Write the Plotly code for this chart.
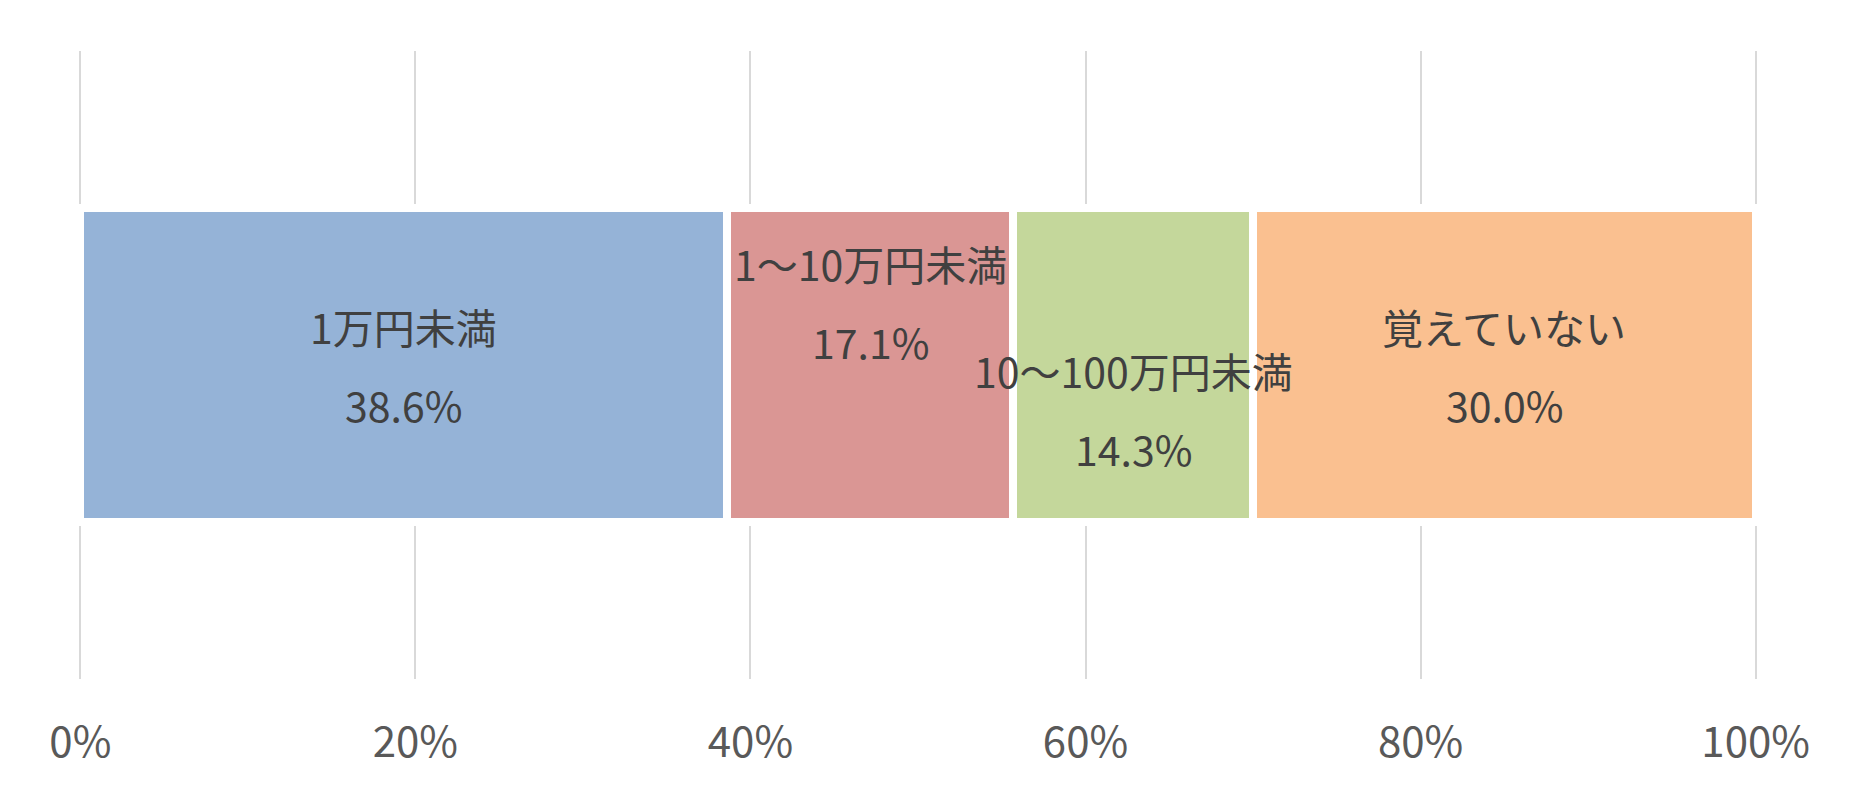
import plotly.graph_objects as go

# NOTE: spending bands and their share (%)
categories = ["1万円未満", "1～10万円未満", "10～100万円未満", "覚えていない"]
shares = [38.6, 17.1, 14.3, 30.0]
tick_values = [0, 20, 40, 60, 80, 100]
tick_labels = ["0%", "20%", "40%", "60%", "80%", "100%"]

colors = ["#95b3d7", "#da9694", "#c4d79b", "#fac090"]
label_offsets = [0, 63, -44, 0]  # vertical nudge of each label pair, px

FONT = "Noto Sans CJK JP"
TEXT_COLOR = "#404040"

fig = go.Figure()
for name, value, color in zip(categories, shares, colors):
    fig.add_trace(
        go.Bar(
            x=[value],
            y=["all"],
            orientation="h",
            name=name,
            width=0.5,
            marker=dict(color=color, line=dict(color="#ffffff", width=8)),
            hoverinfo="name+x",
        )
    )

# labels: category name above, share below, centred on each segment
left = 0
for name, value, shift in zip(categories, shares, label_offsets):
    center = left + value / 2
    left += value
    fig.add_annotation(
        x=center, y="all", text=name, showarrow=False,
        yshift=shift + 39, font=dict(family=FONT, size=41, color=TEXT_COLOR),
    )
    fig.add_annotation(
        x=center, y="all", text=f"{value:.1f}%", showarrow=False,
        yshift=shift - 39, font=dict(family=FONT, size=41, color=TEXT_COLOR),
    )

# small pad on the range so the 0% / 100% grid lines are still drawn
fig.update_xaxes(
    range=[-0.2, 100.2],
    tickvals=tick_values,
    ticktext=tick_labels,
    showgrid=True,
    gridcolor="#d9d9d9",
    gridwidth=2,
    zeroline=False,
    showline=False,
    ticks="",
    ticklabelstandoff=35,
    tickfont=dict(family=FONT, size=42, color="#595959"),
)
fig.update_yaxes(visible=False, range=[-0.5, 0.5])

fig.update_layout(
    barmode="stack",
    showlegend=False,
    width=1860,
    height=801,
    margin=dict(l=77, r=101, t=51, b=122),
    paper_bgcolor="#ffffff",
    plot_bgcolor="#ffffff",
    font=dict(family=FONT),
)

fig.write_html(
    "out.html",
    config={"displayModeBar": False},
    post_script="document.body.style.margin='0';",
)
